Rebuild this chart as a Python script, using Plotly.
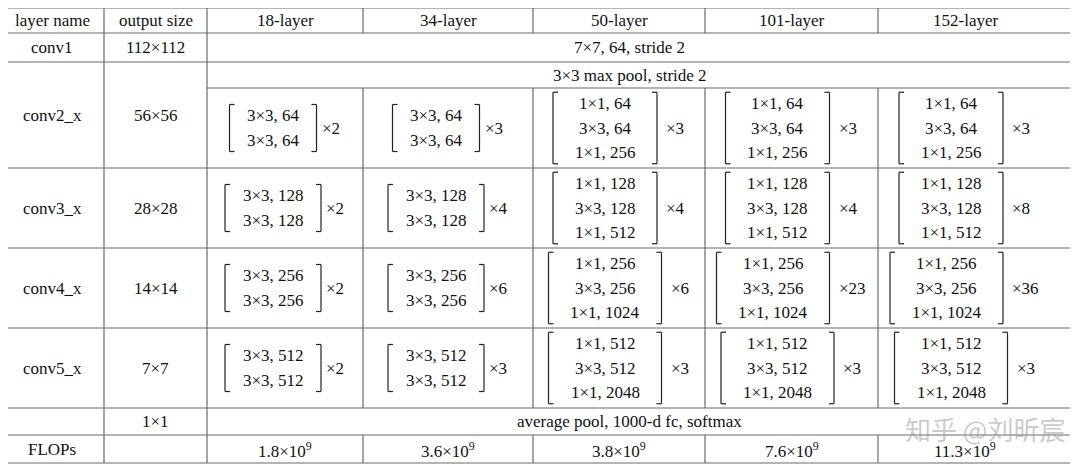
import plotly.graph_objects as go

# table content
headers = ["layer name", "output size", "18-layer", "34-layer", "50-layer", "101-layer", "152-layer"]
layer_names = ["conv1", "conv2_x", "conv3_x", "conv4_x", "conv5_x", "", "FLOPs"]
output_sizes = ["112×112", "56×56", "28×28", "14×14", "7×7", "1×1", ""]
conv1_text = "7×7, 64, stride 2"
pool_text = "3×3 max pool, stride 2"
final_text = "average pool, 1000-d fc, softmax"

basic = {
    "conv2_x": ["3×3, 64", "3×3, 64"],
    "conv3_x": ["3×3, 128", "3×3, 128"],
    "conv4_x": ["3×3, 256", "3×3, 256"],
    "conv5_x": ["3×3, 512", "3×3, 512"],
}
bottleneck = {
    "conv2_x": ["1×1, 64", "3×3, 64", "1×1, 256"],
    "conv3_x": ["1×1, 128", "3×3, 128", "1×1, 512"],
    "conv4_x": ["1×1, 256", "3×3, 256", "1×1, 1024"],
    "conv5_x": ["1×1, 512", "3×3, 512", "1×1, 2048"],
}
repeats = {
    "18-layer": [2, 2, 2, 2],
    "34-layer": [3, 4, 6, 3],
    "50-layer": [3, 4, 6, 3],
    "101-layer": [3, 4, 23, 3],
    "152-layer": [3, 8, 36, 3],
}
flops = ["1.8", "3.6", "3.8", "7.6", "11.3"]

# grid geometry (pixels)
col_edges = [0, 104, 207, 363, 533, 705, 878, 1052]
row_edges = [8, 33, 62, 88, 168, 248, 328, 408, 435, 463]
line_end = 1070
FONT = "Liberation Serif"
LC = "#6a6a6a"
CW = 9.0

fig = go.Figure()
shapes, ann = [], []


def hline(y, x0=0, x1=line_end, color=LC):
    shapes.append(dict(type="line", x0=x0, x1=x1, y0=y, y1=y, line=dict(color=color, width=1.2)))


def vline(x, y0, y1, color=LC):
    shapes.append(dict(type="line", x0=x, x1=x, y0=y0, y1=y1, line=dict(color=color, width=1.2)))


def text(x, y, s, size=17, anchor="center", color="#111"):
    ann.append(dict(x=x, y=y, text=s, showarrow=False, xanchor=anchor, yanchor="middle",
                    font=dict(family=FONT, size=size, color=color)))


def cc(i):
    return (col_edges[i] + col_edges[i + 1]) / 2


def rc(j):
    return (row_edges[j] + row_edges[j + 1]) / 2


for j, y in enumerate(row_edges):
    hline(y, x0=col_edges[2] if j == 3 else 0)

for i in [1, 2]:
    vline(col_edges[i], row_edges[0], row_edges[-1])
for i in [3, 4, 5, 6]:
    vline(col_edges[i], row_edges[0], row_edges[1])
    vline(col_edges[i], row_edges[3], row_edges[7])
    vline(col_edges[i], row_edges[8], row_edges[9])

for i, h in enumerate(headers):
    text(cc(i), rc(0), h)

text(cc(0), rc(1), layer_names[0])
text(cc(1), rc(1), output_sizes[0])
yc2 = (row_edges[2] + row_edges[4]) / 2
text(cc(0), yc2, layer_names[1])
text(cc(1), yc2, output_sizes[1])
for k in range(2, 5):
    text(cc(0), rc(k + 2), layer_names[k])
    text(cc(1), rc(k + 2), output_sizes[k])
text(cc(1), rc(7), output_sizes[5])
text(cc(0), rc(8), layer_names[6])

span_c = (col_edges[2] + col_edges[-1]) / 2
text(span_c, rc(1), conv1_text)
text(span_c, rc(2), pool_text)
text(span_c, rc(7), final_text)


def block(cx, cy, lines, mult):
    n = len(lines)
    w = max(len(s) for s in lines) * CW
    pad = 12 if n == 2 else 16
    gap = 6 if n == 2 else 10
    bw = w + 2 * pad
    mt = "×%d" % mult
    mw = gap + len(mt) * CW
    x0 = cx - (bw + mw) / 2
    x1 = x0 + bw
    lh = 24.5
    half = lh * n / 2 - 1
    for xb, d in [(x0, 5), (x1, -5)]:
        vline(xb, cy - half, cy + half, color="#222")
        shapes.append(dict(type="line", x0=xb, x1=xb + d, y0=cy - half, y1=cy - half, line=dict(color="#222", width=1.2)))
        shapes.append(dict(type="line", x0=xb, x1=xb + d, y0=cy + half, y1=cy + half, line=dict(color="#222", width=1.2)))
    for k, s in enumerate(lines):
        text((x0 + x1) / 2, cy + (k - (n - 1) / 2) * lh, s)
    text(x1 + gap - 3, cy, mt, anchor="left")


stages = ["conv2_x", "conv3_x", "conv4_x", "conv5_x"]
for ci, name in enumerate(headers[2:]):
    deep = ci >= 2
    for si, st in enumerate(stages):
        lines = bottleneck[st] if deep else basic[st]
        block(cc(ci + 2), rc(si + 3), lines, repeats[name][si])
    text(cc(ci + 2), rc(8) + 1, flops[ci] + "×10<sup>9</sup>")

# watermark
ann.append(dict(x=985, y=428, text="知乎 @刘昕宸", showarrow=False, xanchor="center", yanchor="middle",
                font=dict(family="Noto Sans CJK SC", size=26, color="rgba(150,150,150,0.5)")))

# the page body has an 8px margin; shift ranges so coordinates equal window pixels
fig.update_layout(
    width=1072, height=463, margin=dict(l=0, r=0, t=0, b=0),
    paper_bgcolor="white", plot_bgcolor="white",
    xaxis=dict(range=[8, 1080], visible=False, fixedrange=True),
    yaxis=dict(range=[471, 8], visible=False, fixedrange=True),
    shapes=shapes, annotations=ann, showlegend=False,
)
fig.write_html("out.html")
